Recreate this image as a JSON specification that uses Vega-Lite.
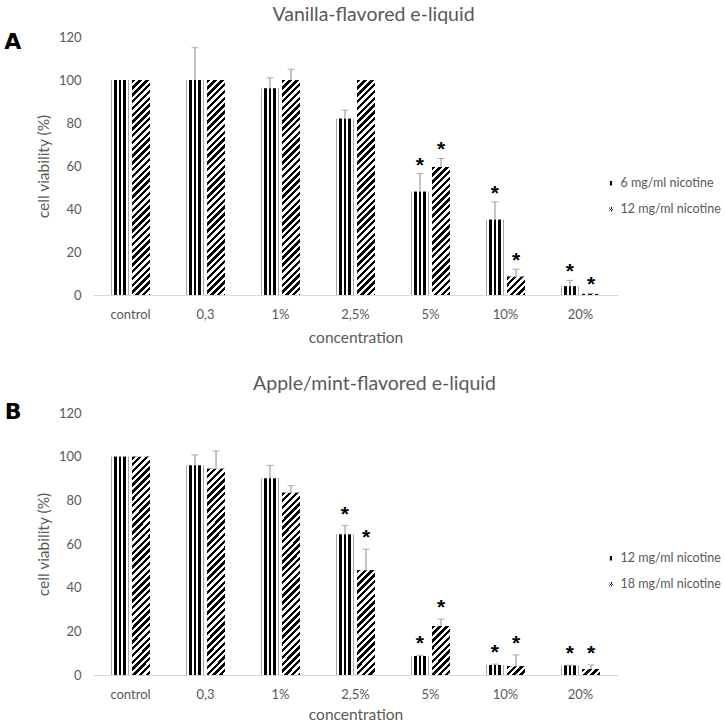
{
  "$schema": "https://vega.github.io/schema/vega-lite/v6.json",
  "background": "white",
  "padding": {"left": 4, "right": 0, "top": 4, "bottom": 0},
  "params": [
    {"name": "vgrad", "value": {"gradient": "linear", "x1": 0, "y1": 0, "x2": 1, "y2": 0, "stops": [
      {"offset":0,"color":"#a6a6a6"},{"offset":0.06,"color":"#a6a6a6"},{"offset":0.06,"color":"#fff"},{"offset":0.17,"color":"#fff"},{"offset":0.17,"color":"#000"},{"offset":0.33,"color":"#000"},{"offset":0.33,"color":"#fff"},{"offset":0.42,"color":"#fff"},{"offset":0.42,"color":"#000"},{"offset":0.58,"color":"#000"},{"offset":0.58,"color":"#fff"},{"offset":0.67,"color":"#fff"},{"offset":0.67,"color":"#000"},{"offset":0.83,"color":"#000"},{"offset":0.83,"color":"#fff"},{"offset":0.94,"color":"#fff"},{"offset":0.94,"color":"#a6a6a6"},{"offset":1,"color":"#a6a6a6"}]}},
    {"name": "dgradLeg", "value": {"gradient": "linear", "x1": 0, "y1": 0, "x2": 1, "y2": 1, "stops": [
      {"offset":0,"color":"#000"},{"offset":0.16667,"color":"#000"},{"offset":0.16667,"color":"#fff"},{"offset":0.33333,"color":"#fff"},{"offset":0.33333,"color":"#000"},{"offset":0.5,"color":"#000"},{"offset":0.5,"color":"#fff"},{"offset":0.66667,"color":"#fff"},{"offset":0.66667,"color":"#000"},{"offset":0.83333,"color":"#000"},{"offset":0.83333,"color":"#fff"},{"offset":1,"color":"#fff"}]}},
    {"name": "dstops", "value": [
      {"offset":0,"color":"#000"},{"offset":0.01389,"color":"#000"},{"offset":0.01389,"color":"#fff"},{"offset":0.02778,"color":"#fff"},
      {"offset":0.02778,"color":"#000"},{"offset":0.04167,"color":"#000"},{"offset":0.04167,"color":"#fff"},{"offset":0.05556,"color":"#fff"},
      {"offset":0.05556,"color":"#000"},{"offset":0.06944,"color":"#000"},{"offset":0.06944,"color":"#fff"},{"offset":0.08333,"color":"#fff"},
      {"offset":0.08333,"color":"#000"},{"offset":0.09722,"color":"#000"},{"offset":0.09722,"color":"#fff"},{"offset":0.11111,"color":"#fff"},
      {"offset":0.11111,"color":"#000"},{"offset":0.125,"color":"#000"},{"offset":0.125,"color":"#fff"},{"offset":0.13889,"color":"#fff"},
      {"offset":0.13889,"color":"#000"},{"offset":0.15278,"color":"#000"},{"offset":0.15278,"color":"#fff"},{"offset":0.16667,"color":"#fff"},
      {"offset":0.16667,"color":"#000"},{"offset":0.18056,"color":"#000"},{"offset":0.18056,"color":"#fff"},{"offset":0.19444,"color":"#fff"},
      {"offset":0.19444,"color":"#000"},{"offset":0.20833,"color":"#000"},{"offset":0.20833,"color":"#fff"},{"offset":0.22222,"color":"#fff"},
      {"offset":0.22222,"color":"#000"},{"offset":0.23611,"color":"#000"},{"offset":0.23611,"color":"#fff"},{"offset":0.25,"color":"#fff"},
      {"offset":0.25,"color":"#000"},{"offset":0.26389,"color":"#000"},{"offset":0.26389,"color":"#fff"},{"offset":0.27778,"color":"#fff"},
      {"offset":0.27778,"color":"#000"},{"offset":0.29167,"color":"#000"},{"offset":0.29167,"color":"#fff"},{"offset":0.30556,"color":"#fff"},
      {"offset":0.30556,"color":"#000"},{"offset":0.31944,"color":"#000"},{"offset":0.31944,"color":"#fff"},{"offset":0.33333,"color":"#fff"},
      {"offset":0.33333,"color":"#000"},{"offset":0.34722,"color":"#000"},{"offset":0.34722,"color":"#fff"},{"offset":0.36111,"color":"#fff"},
      {"offset":0.36111,"color":"#000"},{"offset":0.375,"color":"#000"},{"offset":0.375,"color":"#fff"},{"offset":0.38889,"color":"#fff"},
      {"offset":0.38889,"color":"#000"},{"offset":0.40278,"color":"#000"},{"offset":0.40278,"color":"#fff"},{"offset":0.41667,"color":"#fff"},
      {"offset":0.41667,"color":"#000"},{"offset":0.43056,"color":"#000"},{"offset":0.43056,"color":"#fff"},{"offset":0.44444,"color":"#fff"},
      {"offset":0.44444,"color":"#000"},{"offset":0.45833,"color":"#000"},{"offset":0.45833,"color":"#fff"},{"offset":0.47222,"color":"#fff"},
      {"offset":0.47222,"color":"#000"},{"offset":0.48611,"color":"#000"},{"offset":0.48611,"color":"#fff"},{"offset":0.5,"color":"#fff"},
      {"offset":0.5,"color":"#000"},{"offset":0.51389,"color":"#000"},{"offset":0.51389,"color":"#fff"},{"offset":0.52778,"color":"#fff"},
      {"offset":0.52778,"color":"#000"},{"offset":0.54167,"color":"#000"},{"offset":0.54167,"color":"#fff"},{"offset":0.55556,"color":"#fff"},
      {"offset":0.55556,"color":"#000"},{"offset":0.56944,"color":"#000"},{"offset":0.56944,"color":"#fff"},{"offset":0.58333,"color":"#fff"},
      {"offset":0.58333,"color":"#000"},{"offset":0.59722,"color":"#000"},{"offset":0.59722,"color":"#fff"},{"offset":0.61111,"color":"#fff"},
      {"offset":0.61111,"color":"#000"},{"offset":0.625,"color":"#000"},{"offset":0.625,"color":"#fff"},{"offset":0.63889,"color":"#fff"},
      {"offset":0.63889,"color":"#000"},{"offset":0.65278,"color":"#000"},{"offset":0.65278,"color":"#fff"},{"offset":0.66667,"color":"#fff"},
      {"offset":0.66667,"color":"#000"},{"offset":0.68056,"color":"#000"},{"offset":0.68056,"color":"#fff"},{"offset":0.69444,"color":"#fff"},
      {"offset":0.69444,"color":"#000"},{"offset":0.70833,"color":"#000"},{"offset":0.70833,"color":"#fff"},{"offset":0.72222,"color":"#fff"},
      {"offset":0.72222,"color":"#000"},{"offset":0.73611,"color":"#000"},{"offset":0.73611,"color":"#fff"},{"offset":0.75,"color":"#fff"},
      {"offset":0.75,"color":"#000"},{"offset":0.76389,"color":"#000"},{"offset":0.76389,"color":"#fff"},{"offset":0.77778,"color":"#fff"},
      {"offset":0.77778,"color":"#000"},{"offset":0.79167,"color":"#000"},{"offset":0.79167,"color":"#fff"},{"offset":0.80556,"color":"#fff"},
      {"offset":0.80556,"color":"#000"},{"offset":0.81944,"color":"#000"},{"offset":0.81944,"color":"#fff"},{"offset":0.83333,"color":"#fff"},
      {"offset":0.83333,"color":"#000"},{"offset":0.84722,"color":"#000"},{"offset":0.84722,"color":"#fff"},{"offset":0.86111,"color":"#fff"},
      {"offset":0.86111,"color":"#000"},{"offset":0.875,"color":"#000"},{"offset":0.875,"color":"#fff"},{"offset":0.88889,"color":"#fff"},
      {"offset":0.88889,"color":"#000"},{"offset":0.90278,"color":"#000"},{"offset":0.90278,"color":"#fff"},{"offset":0.91667,"color":"#fff"},
      {"offset":0.91667,"color":"#000"},{"offset":0.93056,"color":"#000"},{"offset":0.93056,"color":"#fff"},{"offset":0.94444,"color":"#fff"},
      {"offset":0.94444,"color":"#000"},{"offset":0.95833,"color":"#000"},{"offset":0.95833,"color":"#fff"},{"offset":0.97222,"color":"#fff"},
      {"offset":0.97222,"color":"#000"},{"offset":0.98611,"color":"#000"},{"offset":0.98611,"color":"#fff"},{"offset":1,"color":"#fff"}
    ]}
  ],
  "config": {
    "font": "Lato",
    "view": {"stroke": null},
    "concat": {"spacing": 27},
    "title": {"font": "Lato", "fontSize": 19.5, "fontWeight": "normal", "color": "#595959", "anchor": "middle", "frame": "group"},
    "axis": {"labelFont": "Lato", "titleFont": "Lato", "labelColor": "#595959", "titleColor": "#595959", "labelFontSize": 13, "titleFontSize": 15.5, "titleFontWeight": "normal", "ticks": false, "tickSize": 0, "grid": false},
    "axisX": {"domainColor": "#d9d9d9", "domainWidth": 1, "labelAngle": 0, "labelPadding": 13, "titlePadding": 9},
    "axisY": {"domain": false, "labelPadding": 12, "titlePadding": 7, "values": [0, 20, 40, 60, 80, 100, 120]},
    "legend": {"orient": "none", "labelFont": "Lato", "labelFontSize": 12.5, "labelColor": "#595959", "symbolType": "M-0.35,-0.5H0.35V0.5H-0.35Z", "symbolSize": 80, "rowPadding": 13, "labelOffset": 3, "symbolStrokeWidth": 0, "padding": 0}
  },
  "resolve": {"scale": {"fill": "independent", "xOffset": "independent", "x": "independent", "y": "independent"}, "legend": {"fill": "independent"}},
  "vconcat": [
    {
      "title": {"text": "A", "orient": "left", "anchor": "end", "angle": 0, "align": "right", "baseline": "middle", "fontSize": 22, "fontWeight": "bold", "color": "#000000", "font": "DejaVu Sans", "offset": -2, "dy": 37, "frame": "bounds"},
      "vconcat": [
        {
          "width": 525,
          "height": 258,
          "title": {"text": "Vanilla-flavored e-liquid", "dx": 18, "offset": 6},
          "data": {"values": [
            {"conc": "control", "series": "6 mg/ml nicotine", "v": 100},
            {"conc": "control", "series": "12 mg/ml nicotine", "v": 100},
            {"conc": "0,3", "series": "6 mg/ml nicotine", "v": 100, "hi": 115},
            {"conc": "0,3", "series": "12 mg/ml nicotine", "v": 100},
            {"conc": "1%", "series": "6 mg/ml nicotine", "v": 96, "hi": 101},
            {"conc": "1%", "series": "12 mg/ml nicotine", "v": 100, "hi": 105},
            {"conc": "2,5%", "series": "6 mg/ml nicotine", "v": 82, "hi": 86},
            {"conc": "2,5%", "series": "12 mg/ml nicotine", "v": 100},
            {"conc": "5%", "series": "6 mg/ml nicotine", "v": 48, "hi": 56.5, "sig": "*"},
            {"conc": "5%", "series": "12 mg/ml nicotine", "v": 59.5, "hi": 63.5, "sig": "*"},
            {"conc": "10%", "series": "6 mg/ml nicotine", "v": 35, "hi": 43.3, "sig": "*"},
            {"conc": "10%", "series": "12 mg/ml nicotine", "v": 8.5, "hi": 12, "sig": "*"},
            {"conc": "20%", "series": "6 mg/ml nicotine", "v": 4, "hi": 6.8, "sig": "*"},
            {"conc": "20%", "series": "12 mg/ml nicotine", "v": 0.5, "hi": 0.8, "sig": "*"}
          ]},
          "encoding": {
            "x": {"field": "conc", "type": "nominal", "sort": null, "title": "concentration", "scale": {"paddingInner": 0.48, "paddingOuter": 0.24}},
            "xOffset": {"field": "series", "type": "nominal", "sort": null, "scale": {"paddingInner": 0.15, "paddingOuter": 0}}
          },
          "layer": [
            {
              "mark": "bar",
              "encoding": {
                "y": {"field": "v", "type": "quantitative", "title": "cell viability (%)", "scale": {"domain": [0, 120]}},
                "fill": {"field": "series", "type": "nominal", "sort": null,
                  "scale": {"domain": ["6 mg/ml nicotine", "12 mg/ml nicotine"], "range": [{"expr": "vgrad"}, {"expr": "dgradLeg"}]},
                  "legend": {"title": null, "legendX": 512, "legendY": 140}}
              }
            },
            {
              "mark": "bar",
              "encoding": {
                "y": {"field": "v", "type": "quantitative", "title": "cell viability (%)"},
                "fill": {"value": {"expr": "datum.series === '6 mg/ml nicotine' ? vgrad : {gradient: 'linear', x1: 0, y1: 0, x2: 4406.4/(324+pow(2.15*datum.v,2)), y2: 244.8*2.15*datum.v/(324+pow(2.15*datum.v,2)), stops: dstops}"}}
              }
            },
            {
              "transform": [{"filter": "datum.hi != null"}],
              "mark": {"type": "rule", "color": "#8c8c8c", "strokeWidth": 1},
              "encoding": {
                "y": {"field": "v", "type": "quantitative", "title": "cell viability (%)"},
                "y2": {"field": "hi"}
              }
            },
            {
              "transform": [{"filter": "datum.hi != null"}],
              "mark": {"type": "tick", "orient": "horizontal", "color": "#8c8c8c", "size": 7, "thickness": 1},
              "encoding": {
                "y": {"field": "hi", "type": "quantitative", "title": "cell viability (%)"}
              }
            },
            {
              "transform": [{"filter": "datum.sig != null"}],
              "mark": {"type": "text", "font": "Liberation Sans", "fontSize": 21, "fontWeight": "bold", "color": "#000000", "baseline": "alphabetic", "dy": -2},
              "encoding": {
                "y": {"field": "hi", "type": "quantitative", "title": "cell viability (%)"},
                "text": {"field": "sig"}
              }
            }
          ]
        }
      ]
    },
    {
      "title": {"text": "B", "orient": "left", "anchor": "end", "angle": 0, "align": "right", "baseline": "middle", "fontSize": 22, "fontWeight": "bold", "color": "#000000", "font": "DejaVu Sans", "offset": -2, "dy": 38, "frame": "bounds"},
      "vconcat": [
        {
          "width": 525,
          "height": 262,
          "title": {"text": "Apple/mint-flavored e-liquid", "dx": 19, "offset": 13},
          "data": {"values": [
            {"conc": "control", "series": "12 mg/ml nicotine", "v": 100},
            {"conc": "control", "series": "18 mg/ml nicotine", "v": 100},
            {"conc": "0,3", "series": "12 mg/ml nicotine", "v": 96, "hi": 100.8},
            {"conc": "0,3", "series": "18 mg/ml nicotine", "v": 94.5, "hi": 102.6},
            {"conc": "1%", "series": "12 mg/ml nicotine", "v": 90, "hi": 96},
            {"conc": "1%", "series": "18 mg/ml nicotine", "v": 83.5, "hi": 86.7},
            {"conc": "2,5%", "series": "12 mg/ml nicotine", "v": 64.3, "hi": 68.4, "sig": "*"},
            {"conc": "2,5%", "series": "18 mg/ml nicotine", "v": 48, "hi": 57.6, "sig": "*"},
            {"conc": "5%", "series": "12 mg/ml nicotine", "v": 8.7, "hi": 9, "sig": "*"},
            {"conc": "5%", "series": "18 mg/ml nicotine", "v": 22.4, "hi": 25.6, "sig": "*"},
            {"conc": "10%", "series": "12 mg/ml nicotine", "v": 4.6, "hi": 5, "sig": "*"},
            {"conc": "10%", "series": "18 mg/ml nicotine", "v": 4, "hi": 9.2, "sig": "*"},
            {"conc": "20%", "series": "12 mg/ml nicotine", "v": 4.3, "hi": 4.5, "sig": "*"},
            {"conc": "20%", "series": "18 mg/ml nicotine", "v": 2.7, "hi": 4.6, "sig": "*"}
          ]},
          "encoding": {
            "x": {"field": "conc", "type": "nominal", "sort": null, "title": "concentration", "axis": {"titlePadding": 6}, "scale": {"paddingInner": 0.48, "paddingOuter": 0.24}},
            "xOffset": {"field": "series", "type": "nominal", "sort": null, "scale": {"paddingInner": 0.15, "paddingOuter": 0}}
          },
          "layer": [
            {
              "mark": "bar",
              "encoding": {
                "y": {"field": "v", "type": "quantitative", "title": "cell viability (%)", "scale": {"domain": [0, 120]}},
                "fill": {"field": "series", "type": "nominal", "sort": null,
                  "scale": {"domain": ["12 mg/ml nicotine", "18 mg/ml nicotine"], "range": [{"expr": "vgrad"}, {"expr": "dgradLeg"}]},
                  "legend": {"title": null, "legendX": 512, "legendY": 139}}
              }
            },
            {
              "mark": "bar",
              "encoding": {
                "y": {"field": "v", "type": "quantitative", "title": "cell viability (%)"},
                "fill": {"value": {"expr": "datum.series === '12 mg/ml nicotine' ? vgrad : {gradient: 'linear', x1: 0, y1: 0, x2: 4406.4/(324+pow(2.18*datum.v,2)), y2: 244.8*2.18*datum.v/(324+pow(2.18*datum.v,2)), stops: dstops}"}}
              }
            },
            {
              "transform": [{"filter": "datum.hi != null"}],
              "mark": {"type": "rule", "color": "#8c8c8c", "strokeWidth": 1},
              "encoding": {
                "y": {"field": "v", "type": "quantitative", "title": "cell viability (%)"},
                "y2": {"field": "hi"}
              }
            },
            {
              "transform": [{"filter": "datum.hi != null"}],
              "mark": {"type": "tick", "orient": "horizontal", "color": "#8c8c8c", "size": 7, "thickness": 1},
              "encoding": {
                "y": {"field": "hi", "type": "quantitative", "title": "cell viability (%)"}
              }
            },
            {
              "transform": [{"filter": "datum.sig != null"}],
              "mark": {"type": "text", "font": "Liberation Sans", "fontSize": 21, "fontWeight": "bold", "color": "#000000", "baseline": "alphabetic", "dy": -5},
              "encoding": {
                "y": {"field": "hi", "type": "quantitative", "title": "cell viability (%)"},
                "text": {"field": "sig"}
              }
            }
          ]
        }
      ]
    }
  ]
}
